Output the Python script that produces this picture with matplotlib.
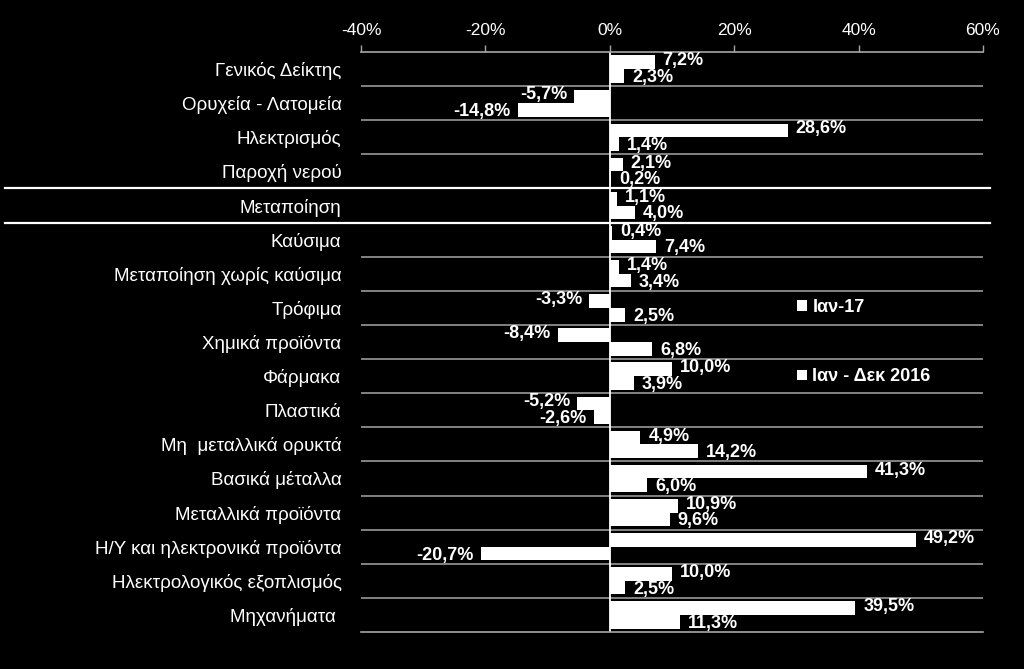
import matplotlib
matplotlib.use("Agg")
import matplotlib.pyplot as plt
from matplotlib.patches import Patch
from matplotlib.ticker import FuncFormatter

plt.rcParams["font.family"] = ["Liberation Sans", "DejaVu Sans"]

categories = [
    "Γενικός Δείκτης", "Ορυχεία - Λατομεία", "Ηλεκτρισμός", "Παροχή νερού",
    "Μεταποίηση", "Καύσιμα", "Μεταποίηση χωρίς καύσιμα", "Τρόφιμα",
    "Χημικά προϊόντα", "Φάρμακα", "Πλαστικά", "Μη  μεταλλικά ορυκτά",
    "Βασικά μέταλλα", "Μεταλλικά προϊόντα", "Η/Υ και ηλεκτρονικά προϊόντα",
    "Ηλεκτρολογικός εξοπλισμός", "Μηχανήματα ",
]
jan17 = [7.2, -5.7, 28.6, 2.1, 1.1, 0.4, 1.4, -3.3, -8.4, 10.0, -5.2,
         4.9, 41.3, 10.9, 49.2, 10.0, 39.5]
jan_dec16 = [2.3, -14.8, 1.4, 0.2, 4.0, 7.4, 3.4, 2.5, 6.8, 3.9, -2.6,
             14.2, 6.0, 9.6, -20.7, 2.5, 11.3]
series_names = ["Ιαν-17", "Ιαν - Δεκ 2016"]
x_ticks = [-40, -20, 0, 20, 40, 60]

GRAY = "#a6a6a6"
BAR_H = 0.4


def fmt_pct(v):
    return f"{v:.1f}%".replace(".", ",")


fig = plt.figure(figsize=(10.24, 6.69), dpi=100, facecolor="black")
ax = fig.add_axes([361 / 1024, 1 - 632 / 669, 622 / 1024, 580 / 669])
ax.set_facecolor("black")

ypos = list(range(len(categories)))
y_top = [y - BAR_H / 2 for y in ypos]
y_bot = [y + BAR_H / 2 for y in ypos]
ax.barh(y_top, jan17, height=BAR_H, color="white", linewidth=0)
ax.barh(y_bot, jan_dec16, height=BAR_H, color="white", linewidth=0)

# small vertical nudge so paired labels overlap less
for vals, ys, dy in ((jan17, y_top, 1.5), (jan_dec16, y_bot, -1.5)):
    for v, y in zip(vals, ys):
        off = 8 if v >= 0 else -7
        ax.annotate(fmt_pct(v), (v, y), xytext=(off, dy), textcoords="offset pixels",
                    ha="left" if v >= 0 else "right", va="center",
                    color="white", fontsize=13, fontweight="bold")

ax.set_xlim(-40, 60)
ax.set_ylim(len(categories) - 0.5, -0.5)
ax.set_xticks(x_ticks)
ax.xaxis.set_major_formatter(FuncFormatter(lambda v, _: f"{int(v)}%"))
ax.xaxis.tick_top()
ax.tick_params(axis="x", colors=GRAY, labelcolor="white", labelsize=12.5,
               length=5, width=1, pad=5)
ax.set_yticks(ypos)
ax.set_yticklabels(categories)
ax.tick_params(axis="y", length=0, labelcolor="white", labelsize=13.5, pad=14)

for s in ("left", "right"):
    ax.spines[s].set_visible(False)
for s in ("top", "bottom"):
    ax.spines[s].set_color(GRAY)
    ax.spines[s].set_linewidth(1.2)

for i in range(len(categories) - 1):
    yy = i + 0.5
    if i in (3, 4):
        ax.plot([-0.572, 1.011], [yy, yy], color="white", lw=1.6,
                transform=ax.get_yaxis_transform(), clip_on=False)
    else:
        ax.axhline(yy, color=GRAY, lw=1.1)

ax.axvline(0, color="white", lw=1.3)

handles = [Patch(facecolor="white", edgecolor="none") for _ in series_names]
fig.legend(handles, series_names, loc="upper left",
           bbox_to_anchor=(797 / 1024, 1 - 299 / 669), bbox_transform=fig.transFigure,
           frameon=False, borderpad=0, borderaxespad=0, handlelength=0.55,
           handleheight=0.55, handletextpad=0.3, labelspacing=2.9,
           prop={"size": 13, "weight": "bold"}, labelcolor="white")

fig.savefig("out.png", dpi=100, facecolor="black")
